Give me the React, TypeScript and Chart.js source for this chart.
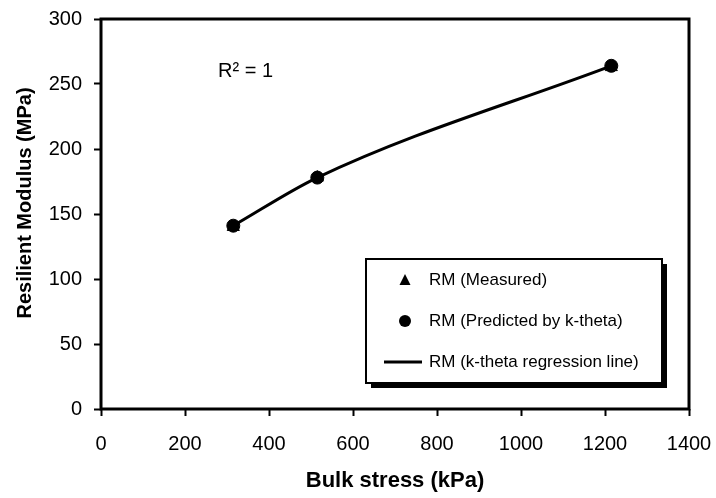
import React, { useEffect, useRef } from "react";
import { Chart, registerables } from "chart.js";

Chart.register(...registerables);

// ---- data ----
const bulkStress = [315, 515, 1215]; // kPa
const rmMeasured = [140, 178, 263]; // MPa
const rmPredicted = [141, 178, 264]; // MPa
const xTicks = [0, 200, 400, 600, 800, 1000, 1200, 1400];
const yTicks = [0, 50, 100, 150, 200, 250, 300];
const seriesLabels = [
  "RM (Measured)",
  "RM (Predicted by k-theta)",
  "RM (k-theta regression line)",
];
const xTitle = "Bulk stress (kPa)";
const yTitle = "Resilient Modulus (MPa)";
const r2Label = "R² = 1";

const FONT = "'Liberation Sans', Arial, sans-serif";

const framePlugin = {
  id: "frame",
  afterDatasetsDraw(chart: any) {
    const { ctx, chartArea } = chart;
    ctx.save();
    ctx.strokeStyle = "#000";
    ctx.lineWidth = 3;
    ctx.strokeRect(
      chartArea.left,
      chartArea.top,
      chartArea.right - chartArea.left,
      chartArea.bottom - chartArea.top
    );
    // R² label
    ctx.fillStyle = "#000";
    ctx.font = `20px ${FONT}`;
    ctx.textBaseline = "middle";
    ctx.textAlign = "left";
    ctx.fillText(r2Label, chartArea.left + 117, chartArea.top + 52);
    // Y axis title
    ctx.font = `bold 20px ${FONT}`;
    ctx.textAlign = "center";
    ctx.translate(25, (chartArea.top + chartArea.bottom) / 2 - 11);
    ctx.rotate(-Math.PI / 2);
    ctx.fillText(yTitle, 0, 0);
    ctx.restore();
  },
};

const legendPlugin = {
  id: "boxLegend",
  afterDraw(chart: any) {
    const { ctx, chartArea } = chart;
    const w = 296;
    const h = 124;
    const x = chartArea.right - 27 - w;
    const y = chartArea.bottom - 26 - h;
    ctx.save();
    // shadow
    ctx.fillStyle = "#000";
    ctx.fillRect(x + 5, y + 5, w, h);
    ctx.fillStyle = "#fff";
    ctx.fillRect(x, y, w, h);
    ctx.strokeStyle = "#000";
    ctx.lineWidth = 2;
    ctx.strokeRect(x, y, w, h);

    const rows = [y + 21, y + 62, y + 103];
    const symX = x + 39;
    chart.data.datasets.forEach((ds: any, i: number) => {
      const cy = rows[i];
      ctx.fillStyle = "#000";
      ctx.strokeStyle = "#000";
      if (ds.pointStyle === "triangle") {
        ctx.beginPath();
        ctx.moveTo(symX, cy - 6);
        ctx.lineTo(symX + 5.5, cy + 5);
        ctx.lineTo(symX - 5.5, cy + 5);
        ctx.closePath();
        ctx.fill();
      } else if (ds.pointStyle === "circle") {
        ctx.beginPath();
        ctx.arc(symX, cy, 6, 0, Math.PI * 2);
        ctx.fill();
      } else {
        ctx.lineWidth = 3;
        ctx.beginPath();
        ctx.moveTo(x + 18, cy);
        ctx.lineTo(x + 56, cy);
        ctx.stroke();
      }
      ctx.font = `17px ${FONT}`;
      ctx.textAlign = "left";
      ctx.textBaseline = "middle";
      ctx.fillText(ds.label, x + 63, cy);
    });
    ctx.restore();
  },
};

export default function App() {
  const ref = useRef<HTMLCanvasElement | null>(null);

  useEffect(() => {
    if (!ref.current) return;
    const pts = (ys: number[]) => bulkStress.map((x, i) => ({ x, y: ys[i] }));
    const chart = new Chart(ref.current, {
      type: "scatter",
      data: {
        datasets: [
          {
            label: seriesLabels[0],
            data: pts(rmMeasured),
            pointStyle: "triangle",
            pointRadius: 7,
            backgroundColor: "#000",
            borderColor: "#000",
            showLine: false,
          },
          {
            label: seriesLabels[1],
            data: pts(rmPredicted),
            pointStyle: "circle",
            pointRadius: 6.5,
            backgroundColor: "#000",
            borderColor: "#000",
            showLine: false,
          },
          {
            label: seriesLabels[2],
            type: "line",
            data: pts(rmPredicted),
            pointStyle: false as any,
            pointRadius: 0,
            borderColor: "#000",
            borderWidth: 3,
            showLine: true,
            cubicInterpolationMode: "monotone",
            fill: false,
          } as any,
        ],
      },
      options: {
        responsive: false,
        animation: false,
        devicePixelRatio: 1,
        layout: { padding: { top: 19, right: 27, left: 0, bottom: 0 } },
        plugins: {
          legend: { display: false },
          tooltip: { enabled: false },
        },
        scales: {
          x: {
            type: "linear",
            min: xTicks[0],
            max: xTicks[xTicks.length - 1],
            afterFit: (s: any) => {
              s.height = 89;
              s.paddingLeft = 0;
              s.paddingRight = 0;
            },
            afterBuildTicks: (s: any) => {
              s.ticks = xTicks.map((v) => ({ value: v }));
            },
            ticks: {
              color: "#000",
              font: { family: FONT, size: 20 },
              padding: 16,
              maxRotation: 0,
              callback: (v: any) => String(v),
            },
            grid: {
              drawOnChartArea: false,
              drawTicks: true,
              tickLength: 7,
              tickWidth: 2,
              tickColor: "#000",
            },
            border: { display: false },
            title: {
              display: true,
              text: xTitle,
              color: "#000",
              font: { family: FONT, size: 22, weight: "bold" },
              padding: 4,
            },
          },
          y: {
            type: "linear",
            min: yTicks[0],
            max: yTicks[yTicks.length - 1],
            afterFit: (s: any) => {
              s.width = 101;
              s.paddingTop = 0;
              s.paddingBottom = 0;
            },
            afterBuildTicks: (s: any) => {
              s.ticks = yTicks.map((v) => ({ value: v }));
            },
            ticks: {
              color: "#000",
              font: { family: FONT, size: 20 },
              padding: 12,
              callback: (v: any) => String(v),
            },
            grid: {
              drawOnChartArea: false,
              drawTicks: true,
              tickLength: 7,
              tickWidth: 2,
              tickColor: "#000",
            },
            border: { display: false },
            title: { display: false },
          },
        },
      },
      plugins: [framePlugin, legendPlugin],
    });
    return () => chart.destroy();
  }, []);

  return (
    <div style={{ position: "absolute", left: 0, top: 0, width: 716, height: 498, background: "#fff" }}>
      <canvas ref={ref} width={716} height={498} />
    </div>
  );
}
